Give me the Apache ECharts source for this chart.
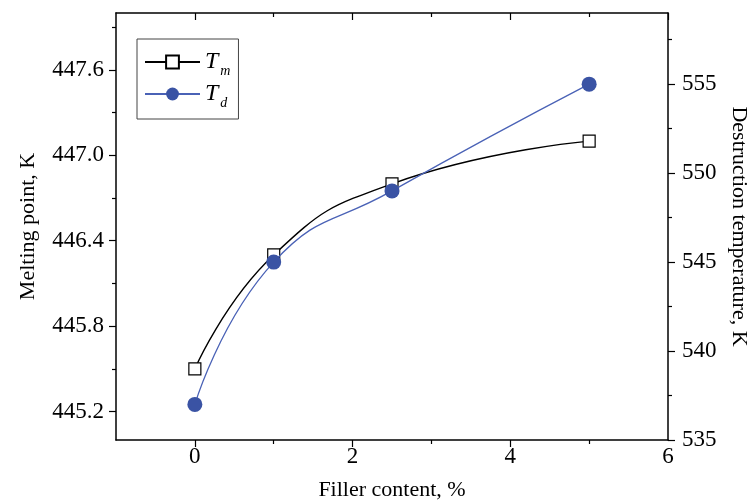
<!DOCTYPE html>
<html lang="en">
<head>
  <meta charset="UTF-8">
  <title>Melting point and destruction temperature</title>
  <style>
    * { margin: 0; padding: 0; }
    body { background: #fff; }
    #chart { width: 752px; height: 502px; }
  </style>
</head>
<body>
  <div id="chart"></div>
  <script src="https://cdn.jsdelivr.net/npm/echarts@6/dist/echarts.min.js"></script>
  <script>
    // data
    const filler = [0, 1, 2.5, 5];
    const meltingPoint = [445.5, 446.3, 446.8, 447.1];   // Tm, left axis
    const destructTemp = [537, 545, 549, 555];           // Td, right axis

    // tick positions
    const xMajor = [0, 2, 4, 6];
    const xMinor = [1, 3, 5];
    const leftMajor = [445.2, 445.8, 446.4, 447.0, 447.6];
    const leftMinor = [445.5, 446.1, 446.7, 447.3, 447.9];
    const rightMajor = [535, 540, 545, 550, 555];
    const rightMinor = [537.5, 542.5, 547.5, 552.5, 557.5];

    const serif = 'Liberation Serif';
    const black = '#000';
    const blue = '#3a53a4';

    const chart = echarts.init(document.getElementById('chart'));

    // helper: an axis that only draws extra ticks
    function tickOnly(base, values, len, inside) {
      return Object.assign({}, base, {
        axisLine: { show: false, onZero: false },
        axisLabel: { show: false },
        axisTick: { show: true, inside: inside, length: len, customValues: values,
                    lineStyle: { color: black, width: 1.2 } },
        splitLine: { show: false },
        name: ''
      });
    }
    // major ticks nudged by a hair so they are not merged away with the label ticks
    const nudge = arr => arr.map(v => v + 1e-6);

    const xBottom = { type: 'value', min: -1, max: 6, position: 'bottom' };
    const xTop = { type: 'value', min: -1, max: 6, position: 'top' };
    const leftBase = { type: 'value', min: 445, max: 448, position: 'left' };
    const rightBase = { type: 'value', min: 535, max: 559, position: 'right' };
    const line = { show: true, onZero: false, lineStyle: { color: black, width: 1.5 } };
    const nameStyle = { fontFamily: serif, fontSize: 22, color: black };

    chart.setOption({
      animation: false,
      grid: { left: 116, right: 84, top: 13, bottom: 62, outerBoundsMode: 'none' },
      legend: {
        left: 137,
        top: 39,
        orient: 'vertical',
        itemWidth: 55,
        itemHeight: 16,
        itemGap: 4,
        padding: [11, 8, 9, 7],
        borderColor: '#444',
        borderWidth: 1,
        data: ['Tm', 'Td'],
        formatter: name => name === 'Tm' ? '{t|T}{s|m}' : '{t|T}{s|d}',
        textStyle: {
          rich: {
            t: { fontFamily: serif, fontStyle: 'italic', fontSize: 24, color: black },
            s: { fontFamily: serif, fontStyle: 'italic', fontSize: 14, color: black, padding: [18, 0, 0, 2] }
          }
        }
      },
      xAxis: [
        Object.assign({}, xBottom, {
          name: 'Filler content, %',
          nameLocation: 'middle',
          nameGap: 39,
          nameTextStyle: nameStyle,
          axisLine: line,
          axisTick: { show: false },
          axisLabel: { customValues: xMajor, fontFamily: serif, fontSize: 23, color: black, margin: 5 },
          splitLine: { show: false }
        }),
        tickOnly(xBottom, nudge(xMajor), 7, false),
        tickOnly(xBottom, xMinor, 4, false),
        Object.assign({}, xTop, {
          axisLine: line,
          axisTick: { show: false },
          axisLabel: { show: false },
          splitLine: { show: false }
        }),
        tickOnly(xTop, xMajor, 7, true),
        tickOnly(xTop, xMinor, 4, true)
      ],
      yAxis: [
        Object.assign({}, leftBase, {
          name: 'Melting point, K',
          nameLocation: 'middle',
          nameGap: 77,
          nameRotate: 90,
          nameTextStyle: nameStyle,
          axisLine: line,
          axisTick: { show: false },
          axisLabel: { customValues: leftMajor, formatter: v => v.toFixed(1),
                       fontFamily: serif, fontSize: 23, color: black, margin: 12 },
          splitLine: { show: false }
        }),
        Object.assign({}, rightBase, {
          name: 'Destruction temperature, K',
          nameLocation: 'middle',
          nameGap: 58,
          nameRotate: -90,
          nameTextStyle: nameStyle,
          axisLine: line,
          axisTick: { show: false },
          axisLabel: { customValues: rightMajor, fontFamily: serif, fontSize: 23, color: black, margin: 14 },
          splitLine: { show: false }
        }),
        tickOnly(leftBase, nudge(leftMajor), 7, false),
        tickOnly(leftBase, leftMinor, 4, false),
        tickOnly(rightBase, nudge(rightMajor), 7, false),
        tickOnly(rightBase, rightMinor, 4, false)
      ],
      series: [
        {
          name: 'Tm',
          type: 'line',
          xAxisIndex: 0,
          yAxisIndex: 0,
          data: filler.map((x, i) => [x, meltingPoint[i]]),
          smooth: 0.5,
          symbol: 'rect',
          symbolSize: 12,
          itemStyle: { color: '#fff', borderColor: black, borderWidth: 1.2 },
          lineStyle: { color: black, width: 1.4 },
          z: 3
        },
        {
          name: 'Td',
          type: 'line',
          xAxisIndex: 0,
          yAxisIndex: 1,
          data: filler.map((x, i) => [x, destructTemp[i]]),
          smooth: 0.5,
          symbol: 'circle',
          symbolSize: 15,
          itemStyle: { color: blue, borderWidth: 0 },
          lineStyle: { color: '#4a62b6', width: 1.3 },
          z: 4
        }
      ]
    });
  </script>
</body>
</html>
